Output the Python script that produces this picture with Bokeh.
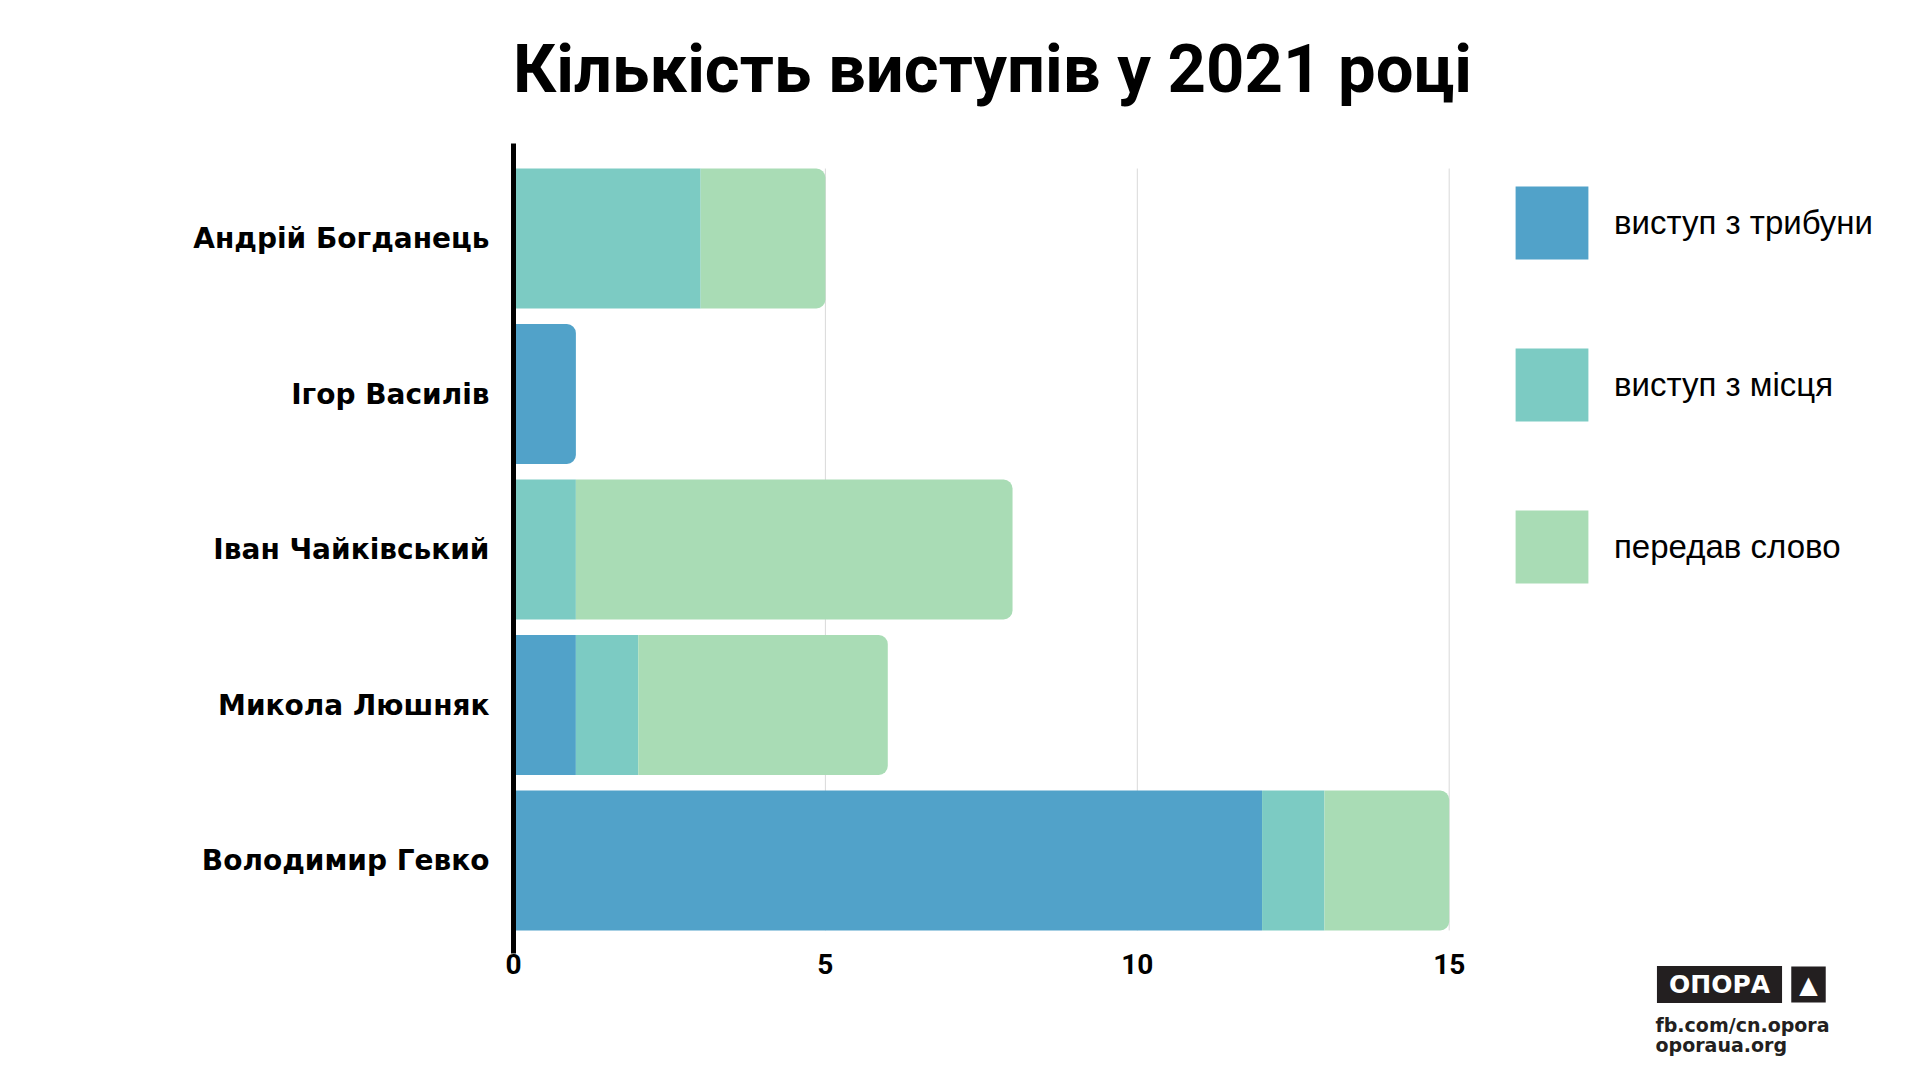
from bokeh.plotting import figure
from bokeh.models import ColumnDataSource, Label, Legend, LegendItem
from bokeh.embed import file_html
from bokeh.resources import INLINE

# ---- data ----
names = ["Андрій Богданець", "Ігор Василів", "Іван Чайківський", "Микола Люшняк", "Володимир Гевко"]
series = ["виступ з трибуни", "виступ з місця", "передав слово"]
tribune = [0, 1, 0, 1, 12]
seat = [3, 0, 1, 1, 1]
passed = [2, 0, 7, 4, 2]
x_ticks = [0, 5, 10, 15]
colors = ["#51a2c9", "#7ccbc3", "#a9dcb5"]

title_text = "Кількість виступів у 2021 році"
logo_text = "ОПОРА"
footer1 = "fb.com/cn.opora"
footer2 = "oporaua.org"

values = [tribune, seat, passed]
n = len(names)
ypos = list(range(n - 1, -1, -1))
bar_h = 0.9

# canvas layout: whole canvas is the frame; x=0 at px 513 (62.38 px/unit), y=0 at px 860 (155.5 px/unit)
W, H = 1916, 1076
X0, SX = 513.0, 62.38
Y0, SY = 860.0, 155.5


def dx(px):
    return (px - X0) / SX


def dy(py):
    return (Y0 - py) / SY


p = figure(width=W, height=H, x_range=(dx(0), dx(W)), y_range=(dy(H), dy(0)),
           output_backend="svg", toolbar_location=None, min_border=0)
p.outline_line_color = None
p.xgrid.visible = False
p.ygrid.visible = False
p.background_fill_color = "white"
p.border_fill_color = "white"

# grid lines at ticks, spanning the bar area
gx = x_ticks[1:]
p.segment(x0=gx, x1=gx, y0=[-bar_h / 2] * len(gx), y1=[n - 1 + bar_h / 2] * len(gx),
          line_color="#d9d9d9", line_width=1)

legend_renderers = []
for s, vals in enumerate(values):
    sq = dict(y=[], left=[], right=[])
    rd = dict(y=[], left=[], right=[])
    for i in range(n):
        v = vals[i]
        if v <= 0:
            continue
        left = sum(values[k][i] for k in range(s))
        last = all(values[k][i] == 0 for k in range(s + 1, len(values)))
        tgt = rd if last else sq
        tgt["y"].append(ypos[i])
        tgt["left"].append(left)
        tgt["right"].append(left + v)
    r1 = p.hbar(y="y", left="left", right="right", height=bar_h, source=ColumnDataSource(sq),
                fill_color=colors[s], line_color=None)
    r2 = p.hbar(y="y", left="left", right="right", height=bar_h, source=ColumnDataSource(rd),
                fill_color=colors[s], line_color=None, border_radius=(0, 9, 9, 0))
    legend_renderers.append(r1 if len(sq["y"]) else r2)

# axes fixed inside the canvas
p.yaxis.fixed_location = 0
p.yaxis.bounds = (dy(953), dy(143))
p.yaxis.ticker = ypos
p.yaxis.major_label_overrides = {ypos[i]: names[i] for i in range(n)}
p.yaxis.axis_line_width = 5
p.yaxis.axis_line_color = "black"
p.yaxis.major_tick_line_color = None
p.yaxis.minor_tick_line_color = None
p.yaxis.major_label_standoff = 18
p.yaxis.major_label_text_font = "DejaVu Sans"
p.yaxis.major_label_text_font_style = "bold"
p.yaxis.major_label_text_font_size = "28px"
p.yaxis.major_label_text_color = "black"

p.xaxis.fixed_location = dy(945)
p.xaxis.ticker = x_ticks
p.xaxis.axis_line_color = None
p.xaxis.major_tick_line_color = None
p.xaxis.minor_tick_line_color = None
p.xaxis.major_label_standoff = 2
p.xaxis.major_label_text_font = "Roboto"
p.xaxis.major_label_text_font_style = "bold"
p.xaxis.major_label_text_font_size = "28px"
p.xaxis.major_label_text_color = "black"

# legend (area swatches are drawn at 80% of the glyph box)
items = [LegendItem(label=series[s], renderers=[legend_renderers[s]]) for s in range(len(series))]
legend = Legend(items=items, location=(1506, H - 592), padding=0, margin=0,
                glyph_width=91, glyph_height=91, spacing=71, label_standoff=17,
                label_text_font="Liberation Sans", label_text_font_size="33px",
                label_text_color="black", border_line_color=None, background_fill_alpha=0)
p.add_layout(legend)

# title
p.add_layout(Label(x=dx(992), y=dy(68), text=title_text, text_align="center", text_baseline="middle",
                   text_font="Roboto", text_font_style="bold", text_font_size="67px",
                   text_color="black"))

# logo + footer
p.add_layout(Label(x=dx(1719), y=dy(984), text=logo_text, text_align="center", text_baseline="middle",
                   text_font="DejaVu Sans", text_font_style="bold", text_font_size="25px",
                   text_color="white", background_fill_color="#231f20", padding=(12, 4)))
p.add_layout(Label(x=dx(1808), y=dy(984), text="▲", text_align="center", text_baseline="middle",
                   text_font="DejaVu Sans", text_font_size="24px",
                   text_color="white", background_fill_color="#231f20", padding=(8, 4)))
p.add_layout(Label(x=dx(1655), y=dy(1024), text=footer1, text_align="left", text_baseline="alphabetic",
                   text_font="DejaVu Sans", text_font_style="bold", text_font_size="19px",
                   text_color="#231f20"))
p.add_layout(Label(x=dx(1655), y=dy(1044), text=footer2, text_align="left", text_baseline="alphabetic",
                   text_font="DejaVu Sans", text_font_style="bold", text_font_size="19px",
                   text_color="#231f20"))

open("out.html", "w").write(file_html(p, INLINE))
